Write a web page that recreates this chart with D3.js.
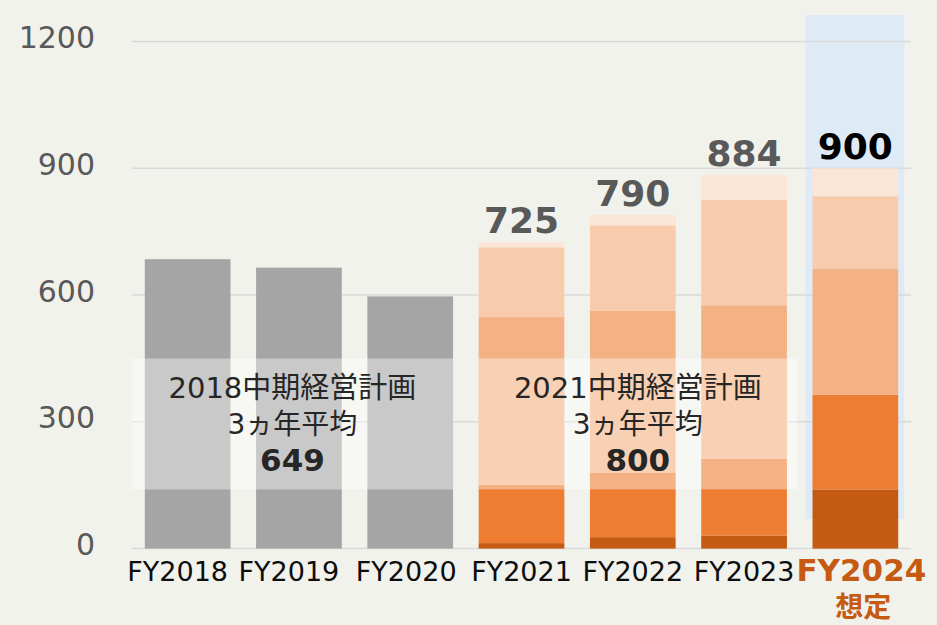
<!DOCTYPE html>
<html>
<head>
<meta charset="utf-8">
<script src="https://cdn.jsdelivr.net/npm/d3@7"></script>
<style>
  body { margin: 0; background: #f2f2ed; }
  svg { display: block; font-family: "DejaVu Sans", "Noto Sans CJK JP", sans-serif; }
</style>
</head>
<body>
<div id="chart"></div>
<script>
const categories = ["FY2018", "FY2019", "FY2020", "FY2021", "FY2022", "FY2023", "FY2024"];
const yTicks = [0, 300, 600, 900, 1200];

// 2018 plan years: single grey bars
const grayYears = ["FY2018", "FY2019", "FY2020"];
const grayValues = [685, 665, 597];

// 2021 plan years: stacked segments, bottom to top
const stackYears = ["FY2021", "FY2022", "FY2023", "FY2024"];
const seg1 = [13, 27, 31, 140];
const seg2 = [138, 152, 182, 224];
const seg3 = [397, 384, 363, 299];
const seg4 = [165, 202, 250, 171];
const seg5 = [12, 25, 58, 66];
const totals = [725, 790, 884, 900];

const planLabels = [
  { lines: ["2018中期経営計画", "3ヵ年平均"], avg: "649", from: "FY2018", to: "FY2020" },
  { lines: ["2021中期経営計画", "3ヵ年平均"], avg: "800", from: "FY2021", to: "FY2023" }
];
const overlayRange = [140, 450];

const width = 937;
const height = 625;
const fontFamily = '"DejaVu Sans", "Noto Sans CJK JP", sans-serif';
const segColors = ["#c55a11", "#ed7d31", "#f4b183", "#f8cbad", "#fbe5d6"];
// small nudges of the category labels, as in the original slide
const labelShift = { FY2018: -10, FY2019: -10, FY2020: -4, FY2024: 6 };

const svg = d3.select("#chart").append("svg")
  .attr("width", width)
  .attr("height", height);

svg.append("rect")
  .attr("width", width)
  .attr("height", height)
  .attr("fill", "#f2f2ed");

const x = d3.scaleBand()
  .domain(categories)
  .range([132, 911])
  .paddingInner(0.23)
  .paddingOuter(0.115);

const y = d3.scaleLinear()
  .domain([0, 1200])
  .range([548.6, 41.6]);

// highlight behind the forecast year
svg.append("rect")
  .attr("x", x("FY2024") - 7)
  .attr("y", 15)
  .attr("width", x.bandwidth() + 13)
  .attr("height", 504)
  .attr("fill", "#deeaf6");

// gridlines
svg.append("g")
  .selectAll("line")
  .data(yTicks)
  .join("line")
  .attr("x1", 132)
  .attr("x2", 911)
  .attr("y1", d => y(d))
  .attr("y2", d => y(d))
  .attr("stroke", "#d9d9d9")
  .attr("stroke-width", 1.5);

// grey bars
svg.append("g")
  .selectAll("rect")
  .data(grayYears.map((c, i) => ({ cat: c, value: grayValues[i] })))
  .join("rect")
  .attr("x", d => x(d.cat))
  .attr("y", d => y(d.value))
  .attr("width", x.bandwidth())
  .attr("height", d => y(0) - y(d.value))
  .attr("fill", "#a5a5a5");

// stacked bars
const keys = ["s1", "s2", "s3", "s4", "s5"];
const rows = stackYears.map((c, i) => ({
  cat: c, s1: seg1[i], s2: seg2[i], s3: seg3[i], s4: seg4[i], s5: seg5[i]
}));
const stacked = d3.stack().keys(keys)(rows);

svg.append("g")
  .selectAll("g")
  .data(stacked)
  .join("g")
  .attr("fill", (d, i) => segColors[i])
  .selectAll("rect")
  .data(d => d)
  .join("rect")
  .attr("x", d => x(d.data.cat))
  .attr("y", d => y(d[1]))
  .attr("width", x.bandwidth())
  .attr("height", d => y(d[0]) - y(d[1]));

// totals above stacked bars
svg.append("g")
  .selectAll("text")
  .data(stackYears.map((c, i) => ({ cat: c, value: totals[i] })))
  .join("text")
  .attr("x", d => x(d.cat) + x.bandwidth() / 2)
  .attr("y", d => y(d.value) - 9)
  .attr("text-anchor", "middle")
  .attr("font-size", 36)
  .attr("font-weight", "bold")
  .attr("fill", d => d.cat === "FY2024" ? "#000" : "#595959")
  .text(d => d.value);

// plan average boxes
const boxes = svg.append("g");
planLabels.forEach((p, i) => {
  const x0 = i === 0 ? x(p.from) - 13 : x(p.from);
  const x1 = x(p.to) + x.bandwidth() + (i === 0 ? 0 : 10);
  const cx = (x0 + x1) / 2;
  boxes.append("rect")
    .attr("x", x0)
    .attr("y", y(overlayRange[1]))
    .attr("width", x1 - x0)
    .attr("height", y(overlayRange[0]) - y(overlayRange[1]))
    .attr("fill", "#fff")
    .attr("fill-opacity", 0.4);
  boxes.append("text")
    .attr("x", cx).attr("y", 398)
    .attr("text-anchor", "middle")
    .attr("font-size", 29)
    .attr("fill", "#262626")
    .text(p.lines[0]);
  boxes.append("text")
    .attr("x", cx).attr("y", 434)
    .attr("text-anchor", "middle")
    .attr("font-size", 28)
    .attr("fill", "#262626")
    .text(p.lines[1]);
  boxes.append("text")
    .attr("x", cx).attr("y", 471)
    .attr("text-anchor", "middle")
    .attr("font-size", 31)
    .attr("font-weight", "bold")
    .attr("fill", "#262626")
    .text(p.avg);
});

// y axis labels
const yAxis = svg.append("g")
  .attr("transform", "translate(95,0)")
  .call(d3.axisLeft(y).tickValues(yTicks).tickFormat(d3.format("d")).tickSize(0).tickPadding(0))
  .attr("font-family", fontFamily);
yAxis.select(".domain").remove();
yAxis.selectAll("text")
  .attr("font-size", 30)
  .attr("fill", "#595959")
  .attr("dy", "0.2em");

// x axis labels
const xAxis = svg.append("g")
  .attr("transform", `translate(0,${y(0)})`)
  .call(d3.axisBottom(x).tickSize(0))
  .attr("font-family", fontFamily);
xAxis.select(".domain").remove();
xAxis.selectAll("text")
  .attr("y", 32.5)
  .attr("dy", 0)
  .attr("dx", d => labelShift[d] || 0)
  .attr("font-size", 27)
  .attr("fill", "#0d0d0d");

xAxis.selectAll(".tick")
  .filter(d => d === "FY2024")
  .select("text")
  .attr("font-size", 31)
  .attr("font-weight", "bold")
  .attr("fill", "#c55a11");

xAxis.selectAll(".tick")
  .filter(d => d === "FY2024")
  .append("text")
  .attr("x", 8)
  .attr("y", 68)
  .attr("text-anchor", "middle")
  .attr("font-size", 28)
  .attr("font-weight", "bold")
  .attr("fill", "#c55a11")
  .text("想定");
</script>
</body>
</html>
